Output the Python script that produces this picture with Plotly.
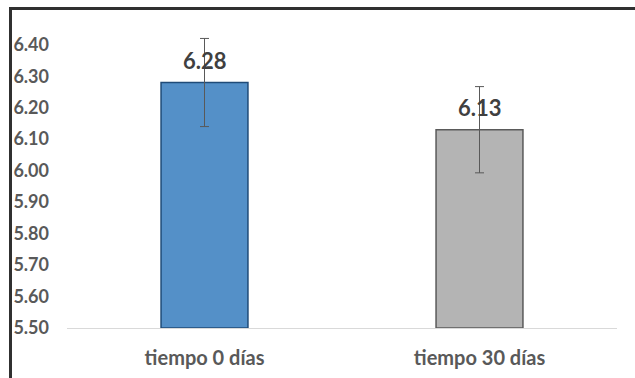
import plotly.graph_objects as go

categories = ["tiempo 0 días", "tiempo 30 días"]
values = [6.28, 6.13]
errors = [0.14, 0.137]
value_labels = ["6.28", "6.13"]
tick_values = [5.5, 5.6, 5.7, 5.8, 5.9, 6.0, 6.1, 6.2, 6.3, 6.4]
tick_labels = ["5.50", "5.60", "5.70", "5.80", "5.90", "6.00", "6.10", "6.20", "6.30", "6.40"]

bar_colors = ["#5490C8", "#B4B4B4"]
edge_colors = ["#1F4B78", "#5A5A5A"]

FONT = "Lato"
GRAY = "#595959"

fig = go.Figure()
fig.add_trace(go.Bar(
    x=categories,
    y=[v - 5.5 for v in values],
    base=5.5,
    width=0.316,
    marker=dict(color=bar_colors, line=dict(color=edge_colors, width=1.5)),
    error_y=dict(type="data", array=errors, color=GRAY, thickness=1, width=4.5),
    hoverinfo="skip",
    showlegend=False,
))

annotations = [
    dict(x=c, y=v, text=t, xref="x", yref="y", showarrow=False,
         yanchor="bottom", xanchor="center", yshift=7,
         font=dict(family=FONT, size=22, color="#404040", weight="bold"))
    for c, v, t in zip(categories, values, value_labels)
]

fig.update_layout(
    template="none",
    width=635, height=378,
    margin=dict(l=67, r=18, t=29, b=50, autoexpand=False),
    paper_bgcolor="white", plot_bgcolor="white",
    font=dict(family=FONT, color=GRAY),
    hovermode=False,
    xaxis=dict(
        showline=True, linecolor="#D9D9D9", linewidth=1,
        showgrid=False, ticks="", automargin=False,
        tickfont=dict(family=FONT, size=20, color=GRAY, weight="bold"),
        ticklabelstandoff=12,
    ),
    yaxis=dict(
        range=[5.5, 6.45],
        tickvals=tick_values, ticktext=tick_labels,
        showgrid=False, zeroline=False, showline=False, ticks="", automargin=False,
        tickfont=dict(family=FONT, size=18, color=GRAY, weight="bold"),
        ticklabelstandoff=17,
    ),
    annotations=annotations,
    shapes=[dict(
        type="rect", xref="paper", yref="paper",
        x0=(10.5 - 67) / 550, x1=1.3, y0=-0.3, y1=(328 - 8.5) / 299,
        line=dict(color="#303030", width=3), fillcolor="rgba(0,0,0,0)", layer="above",
    )],
)

fig.write_html(
    "out.html",
    config={"displayModeBar": False, "staticPlot": True},
    post_script="document.body.style.margin='0';document.body.style.overflow='hidden';",
)
